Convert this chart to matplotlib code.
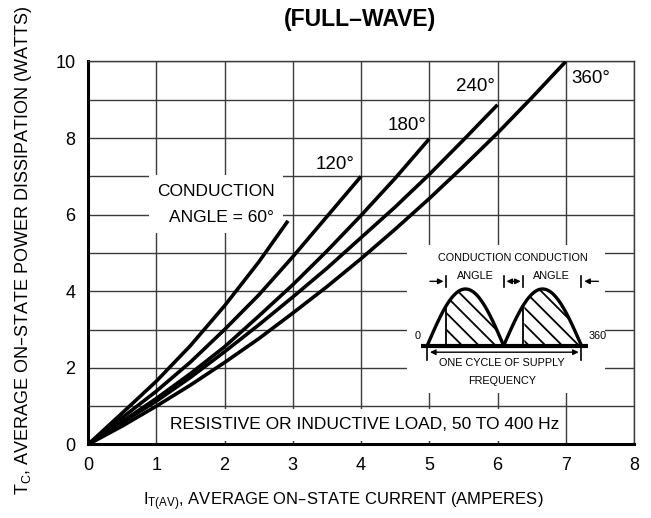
"""Average on-state power dissipation vs. average current (full-wave)."""

import matplotlib
matplotlib.use("Agg")
import matplotlib.pyplot as plt
import numpy as np
from matplotlib.patches import Rectangle

plt.rcParams["font.family"] = ["Liberation Sans", "DejaVu Sans"]
plt.rcParams["mathtext.default"] = "regular"
plt.rcParams["hatch.linewidth"] = 1.3

# curves: I_T(AV) (A) vs P (W)
i_60 = [0, 0.5, 1.0, 1.5, 2.0, 2.5, 2.93]
p_60 = [0, 0.82, 1.65, 2.58, 3.62, 4.76, 5.84]

i_120 = [0, 0.5, 1.0, 1.5, 2.0, 2.5, 3.0, 3.5, 4.0]
p_120 = [0, 0.7, 1.39, 2.15, 3.0, 3.9, 4.9, 5.95, 7.0]

i_180 = [0, 0.5, 1.0, 1.5, 2.0, 2.5, 3.0, 3.5, 4.0, 4.5, 5.0]
p_180 = [0, 0.6, 1.2, 1.85, 2.55, 3.35, 4.17, 5.05, 5.98, 6.95, 7.98]

i_240 = [0, 0.5, 1.0, 1.5, 2.0, 2.5, 3.0, 3.5, 4.0, 4.5, 5.0, 5.5, 6.0]
p_240 = [0, 0.57, 1.13, 1.75, 2.42, 3.12, 3.85, 4.6, 5.4, 6.2, 7.05, 7.95, 8.87]

i_360 = [0, 0.5, 1.0, 1.5, 2.0, 2.5, 3.0, 3.5, 4.0, 4.5, 5.0, 5.5, 6.0, 6.5, 7.0]
p_360 = [0, 0.48, 1.0, 1.55, 2.14, 2.76, 3.43, 4.12, 4.85, 5.62, 6.42, 7.26, 8.13, 9.05, 10.0]

angle_labels = ["120°", "180°", "240°", "360°"]
x_ticks = [0, 1, 2, 3, 4, 5, 6, 7, 8]
y_ticks = [0, 2, 4, 6, 8, 10]

fig = plt.figure(figsize=(6.51, 5.18), dpi=100)
ax = fig.add_axes([0.1352, 0.1419, 0.8387, 0.7394])

ax.set_xlim(0, 8)
ax.set_ylim(0, 10)
ax.set_xticks(x_ticks)
ax.set_yticks(y_ticks)
ax.set_xticks(np.arange(0, 9, 1), minor=True)
ax.set_yticks(np.arange(0, 11, 1), minor=True)
ax.grid(True, which="both", color="#3a3a3a", lw=1.0, zorder=0)
ax.set_axisbelow(True)
ax.tick_params(which="both", length=0, labelsize=13)
ax.tick_params(axis="x", pad=9)
ax.tick_params(axis="y", pad=9)

for side in ["top", "right"]:
    ax.spines[side].set_linewidth(1.0)
    ax.spines[side].set_color("#3a3a3a")
for side in ["left", "bottom"]:
    ax.spines[side].set_linewidth(2.2)

# white boxes that break the grid under the labels
for (x0, y0, w, h) in [(0.89, 5.53, 1.96, 1.51), (1.1, 0.09, 5.85, 0.83), (4.67, 1.35, 2.9, 3.85)]:
    ax.add_patch(Rectangle((x0, y0), w, h, facecolor="white", edgecolor="none", zorder=1))

for xs, ys in [(i_60, p_60), (i_120, p_120), (i_180, p_180), (i_240, p_240), (i_360, p_360)]:
    ax.plot(xs, ys, color="black", lw=2.6, zorder=3, solid_capstyle="butt")

deg = dict(fontsize=13.5, color="black", zorder=4)
ax.text(3.62, 7.30, angle_labels[0], ha="center", va="center", **deg)
ax.text(4.67, 8.34, angle_labels[1], ha="center", va="center", **deg)
ax.text(5.68, 9.34, angle_labels[2], ha="center", va="center", **deg)
ax.text(7.36, 9.56, angle_labels[3], ha="center", va="center", **deg)

txt = dict(fontsize=12.5, color="black", zorder=4)
ax.text(2.73, 6.6, "CONDUCTION", ha="right", va="center", **txt)
ax.text(2.73, 5.92, "ANGLE = 60°", ha="right", va="center", **txt)
ax.text(4.05, 0.52, "RESISTIVE OR INDUCTIVE LOAD, 50 TO 400 Hz", ha="center", va="center", **txt)

# inset waveform sketch
base = 2.58
amp = 1.48
h1 = (4.97, 6.09)
h2 = (6.09, 7.23)
cut = [5.25, 6.38]
for (a, b), c in zip([h1, h2], cut):
    xs = np.linspace(a, b, 80)
    ys = base + amp * np.sin(np.pi * (xs - a) / (b - a))
    ax.plot(xs, ys, color="black", lw=2.4, zorder=5)
    m = xs >= c
    ax.fill_between(xs[m], base, ys[m], facecolor="white", edgecolor="black",
                    hatch="\\\\", linewidth=0, zorder=4)
    yc = base + amp * np.sin(np.pi * (c - a) / (b - a))
    ax.plot([c, c], [base, yc], color="black", lw=1.3, zorder=5)
ax.plot([4.88, 7.33], [base, base], color="black", lw=3.0, zorder=6, solid_capstyle="butt")

small = dict(fontsize=7.8, color="black", zorder=6)
ax.text(4.83, 2.84, "0", ha="center", va="center", **small)
ax.text(7.47, 2.84, "360", ha="center", va="center", **small)
ax.text(6.23, 4.87, "CONDUCTION CONDUCTION", ha="center", va="center", **small)
ax.text(5.68, 4.39, "ANGLE", ha="center", va="center", **small)
ax.text(6.79, 4.39, "ANGLE", ha="center", va="center", **small)
ax.text(6.07, 2.13, "ONE CYCLE OF SUPPLY", ha="center", va="center", **small)
ax.text(6.07, 1.65, "FREQUENCY", ha="center", va="center", **small)

arr = dict(color="black", lw=1.0)
ya = 4.26
for x in [5.25, 6.09, 6.38, 7.23]:
    ax.plot([x, x], [ya - 0.14, ya + 0.14], color="black", lw=1.2, zorder=6)
ax.annotate("", xy=(5.25, ya), xytext=(4.97, ya),
            arrowprops=dict(arrowstyle="-|>", mutation_scale=8, **arr), zorder=6)
ax.annotate("", xy=(7.23, ya), xytext=(7.52, ya),
            arrowprops=dict(arrowstyle="-|>", mutation_scale=8, **arr), zorder=6)
ax.annotate("", xy=(6.09, ya), xytext=(6.38, ya),
            arrowprops=dict(arrowstyle="<|-|>", mutation_scale=8, **arr), zorder=6)

yb = 2.41
for x in [4.97, 7.23]:
    ax.plot([x, x], [yb - 0.2, yb + 0.1], color="black", lw=1.2, zorder=6)
ax.annotate("", xy=(7.23, yb), xytext=(4.97, yb),
            arrowprops=dict(arrowstyle="<|-|>", mutation_scale=8, **arr), zorder=6)

fig.text(0.553, 0.962, "(FULL–WAVE)", ha="center", va="center", fontsize=16.5,
         fontweight="bold")
fig.text(0.528, 0.025, "I$_{T(AV)}$, AVERAGE ON–STATE CURRENT (AMPERES)",
         ha="center", va="baseline", fontsize=12)
fig.text(0.036, 0.517, "T$_C$, AVERAGE ON–STATE POWER DISSIPATION (WATTS)",
         ha="center", va="center", rotation=90, fontsize=13)

fig.savefig("out.png", dpi=100)
